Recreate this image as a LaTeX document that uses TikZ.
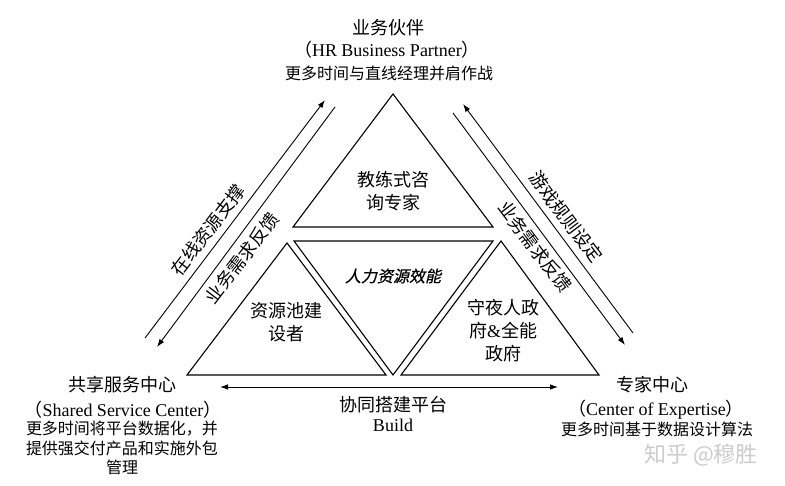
\documentclass[tikz,border=0pt]{standalone}
\usepackage{fontspec}
\setmainfont{Liberation Serif}
\newfontfamily\cjk{Noto Sans CJK SC}
\newfontfamily\cjkit[FakeSlant=0.22,FakeBold=0.6]{Noto Sans CJK SC}
\newfontfamily\lat{Liberation Serif}
\usetikzlibrary{arrows.meta}
\begin{document}
\begin{tikzpicture}[x=1pt,y=-1pt,
  tri/.style={line width=1.1pt, line join=miter},
  flow/.style={line width=0.9pt, -{Latex[length=8pt,width=5.5pt]}},
  flowboth/.style={line width=0.9pt, {Latex[length=8pt,width=5.5pt]}-{Latex[length=8pt,width=5.5pt]}},
  ttl/.style={font=\cjk\fontsize{18}{22}\selectfont, inner sep=0pt},
  en/.style={font=\fontsize{18}{22}\selectfont, inner sep=0pt},
  desc/.style={font=\cjk\fontsize{16}{20}\selectfont, inner sep=0pt},
  lab/.style={font=\cjk\fontsize{18}{23}\selectfont, align=center, inner sep=0pt},
  diag/.style={font=\cjk\fontsize{18}{22}\selectfont, inner sep=0pt},
  wm/.style={font=\cjk\fontsize{22}{24}\selectfont, text=gray!40, inner sep=0pt}
]
\useasboundingbox (0,0) rectangle (785,486);

% triangle corners
\coordinate (tA) at (393,94);  \coordinate (tL) at (293,227); \coordinate (tR) at (493,227);
\coordinate (mL) at (294,241); \coordinate (mR) at (493,241); \coordinate (mB) at (393,375);
\coordinate (lA) at (287,243); \coordinate (lL) at (187,375); \coordinate (lR) at (386,375);
\coordinate (rA) at (501,241); \coordinate (rL) at (401,375); \coordinate (rR) at (599,375);

\draw[tri] (tA) -- (tR) -- (tL) -- cycle;
\draw[tri] (mL) -- (mR) -- (mB) -- cycle;
\draw[tri] (lA) -- (lR) -- (lL) -- cycle;
\draw[tri] (rA) -- (rR) -- (rL) -- cycle;

% arrow end points
\coordinate (loS) at (145,338); \coordinate (loE) at (325,100);
\coordinate (liS) at (335,107); \coordinate (liE) at (157,347);
\coordinate (roS) at (633,333); \coordinate (roE) at (463,104);
\coordinate (riS) at (453,113); \coordinate (riE) at (625,345);
\coordinate (bL) at (220,387);  \coordinate (bR) at (558,387);

\draw[flow] (loS) -- (loE);
\draw[flow] (liS) -- (liE);
\draw[flow] (roS) -- (roE);
\draw[flow] (riS) -- (riE);
\draw[flowboth] (bL) -- (bR);

% top block
\node[ttl] (hrbp1) at (388,28) {业务伙伴};
\node[en] (hrbp2) at (387,50) {{\cjk （}HR Business Partner{\cjk ）}};
\node[desc] (hrbp3) at (389,73) {更多时间与直线经理并肩作战};

% left block
\node[ttl] (ssc1) at (122,385) {共享服务中心};
\node[en] (ssc2) at (123,410) {{\cjk （}Shared Service Center{\cjk ）}};
\node[desc] (ssc3) at (122,429) {更多时间将平台数据化，并};
\node[desc] (ssc4) at (122,448) {提供强交付产品和实施外包};
\node[desc] (ssc5) at (122,467) {管理};

% right block
\node[ttl] (coe1) at (652,385) {专家中心};
\node[en] (coe2) at (656,410) {{\cjk （}Center of Expertise{\cjk ）}};
\node[desc] (coe3) at (657,429) {更多时间基于数据设计算法};

% bottom middle
\node[ttl] (bld1) at (393,405) {协同搭建平台};
\node[en] (bld2) at (393,425) {Build};

% triangle labels
\node[lab] (coach) at (393,191) {教练式咨\\询专家};
\node[font=\cjkit\fontsize{16}{20}\selectfont, inner sep=0pt] (eff) at (393,276) {人力资源效能};
\node[lab] (pool) at (286,322) {资源池建\\设者};
\node[lab] (gov) at (503,331) {守夜人政\\府{\lat\&}全能\\政府};

% diagonal labels
\node[diag, rotate=52.8] (lo) at (208,230) {在线资源支撑};
\node[diag, rotate=52.8] (li) at (242,258) {业务需求反馈};
\node[diag, rotate=-53] (ro) at (566,217) {游戏规则设定};
\node[diag, rotate=-53] (ri) at (535,247) {业务需求反馈};

% watermark
\node[wm] (mark) at (701,455) {知乎 @穆胜};
\end{tikzpicture}
\end{document}
